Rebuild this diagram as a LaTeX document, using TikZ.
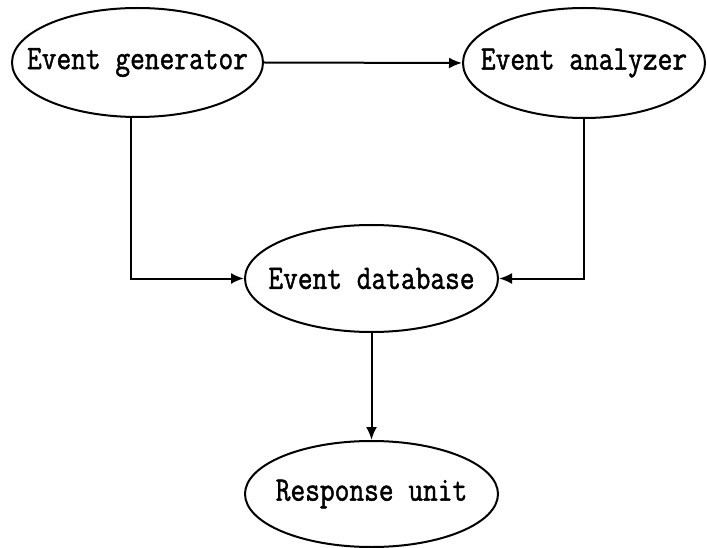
\documentclass[tikz,border=0pt]{standalone}
\usepackage{fontspec}
\setmonofont{Latin Modern Mono}[FakeBold=1.5]
\usetikzlibrary{shapes.geometric,arrows.meta}
\tikzset{
	event/.style={draw, ellipse, line width=2pt, inner sep=0pt,
		font=\ttfamily\fontsize{28.6}{28.6}\selectfont},
	flow/.style={line width=2pt, -{Latex[length=13pt,width=11pt]}}
}
\newcommand{\tall}[1]{\makebox[0pt]{\scalebox{1}[1.2]{#1}}}
\begin{document}
\begin{tikzpicture}[x=1pt,y=-1pt]
		\useasboundingbox (0,0) rectangle (707,548);
		%Ellipses
		\node[event, minimum width=251pt, minimum height=109pt] (gen) at (137.5,62.5) {\tall{Event generator}};
		\node[event, minimum width=242pt, minimum height=110pt] (ana) at (584,63) {\tall{Event analyzer}};
		\node[event, minimum width=253pt, minimum height=107pt] (db) at (371.5,278.5) {\tall{Event database}};
		\node[event, minimum width=253pt, minimum height=106pt] (resp) at (371.5,494) {\tall{Response unit}};
		%Arrows
		\draw[flow] (gen.east) -- (ana.west);
		\draw[flow] ([xshift=-7pt]gen.south) |- (db.west);
		\draw[flow] (ana.south) |- (db.east);
		\draw[flow] (db.south) -- (resp.north);
\end{tikzpicture}
\end{document}
